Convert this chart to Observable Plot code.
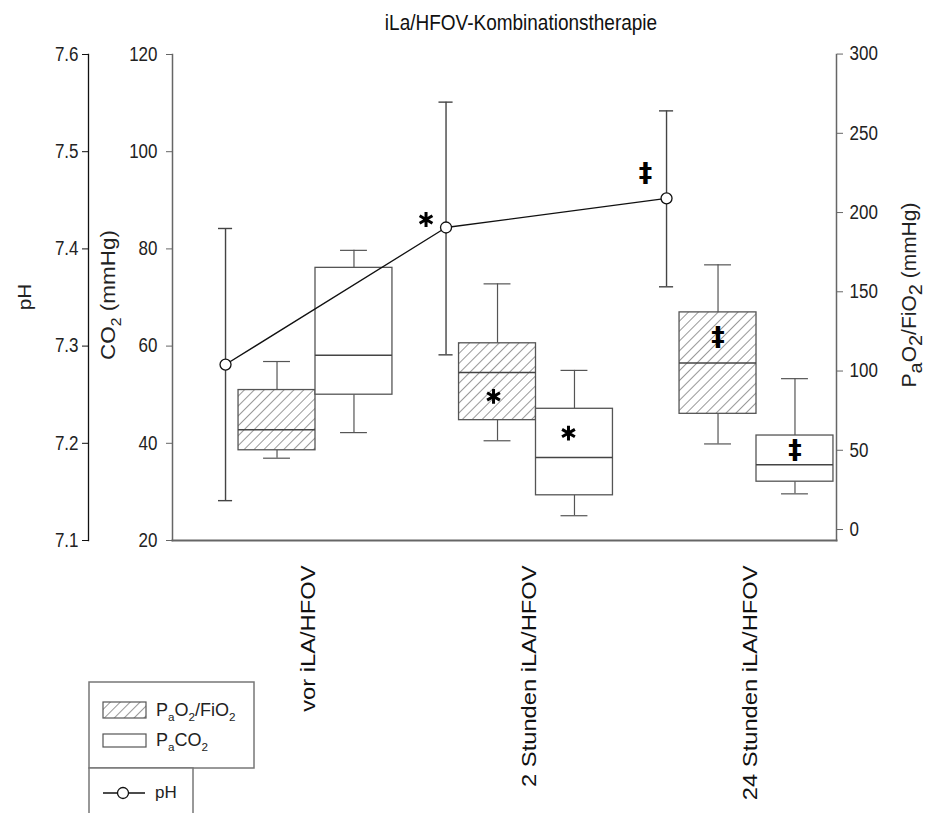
<!DOCTYPE html>
<html><head><meta charset="utf-8">
<script src="https://cdn.jsdelivr.net/npm/d3@7"></script>
<script src="https://cdn.jsdelivr.net/npm/@observablehq/plot@0.6"></script>
<style>body{margin:0;background:#fff;font-family:"Liberation Sans",Arial,sans-serif}</style>
</head><body><div id="chart"></div>
<script>
// ---- data ----
const categories = ["vor iLA/HFOV", "2 Stunden iLA/HFOV", "24 Stunden iLA/HFOV"];
// PaO2/FiO2 (mmHg), right axis – hatched boxes
const pfMin = [45, 56, 54];
const pfQ1  = [50, 69, 73];
const pfMed = [63, 99, 105];
const pfQ3  = [88, 117.5, 137];
const pfMax = [106, 155, 167];
// PaCO2 (mmHg), CO2 axis – white boxes
const co2Min = [42.2, 25.1, 29.6];
const co2Q1  = [50.0, 29.3, 32.1];
const co2Med = [58.1, 37.1, 35.6];
const co2Q3  = [76.1, 47.1, 41.6];
const co2Max = [79.7, 55.0, 53.3];
// pH, left axis – line with error bars
const phMean = [7.281, 7.422, 7.452];
const phLow  = [7.141, 7.291, 7.361];
const phHigh = [7.421, 7.551, 7.542];
// significance markers
const sig = ["", "*", "‡"];
const phTicks = [7.1, 7.2, 7.3, 7.4, 7.5, 7.6];
const co2Ticks = [20, 40, 60, 80, 100, 120];
const pfTicks = [0, 50, 100, 150, 200, 250, 300];

// ---- scale conversions to the shared (CO2) y scale ----
const phToY = p => 20 + (p - 7.1) * 200;
const yToPh = c => (c - 20) / 200 + 7.1;
const pfToY = v => 22.26 + v * 0.3261;
const yToPf = c => (c - 22.26) / 0.3261;

const boxW = 0.349, capW = 0.061, phOff = -0.408, phCap = 0.032;
const rows = categories.map((cat, i) => ({
  i, cat, sig: sig[i],
  hx: i - boxW / 2, wx: i + boxW / 2, px: i + phOff,
  pfMin: pfToY(pfMin[i]), pfQ1: pfToY(pfQ1[i]), pfMed: pfToY(pfMed[i]), pfQ3: pfToY(pfQ3[i]), pfMax: pfToY(pfMax[i]),
  cMin: co2Min[i], cQ1: co2Q1[i], cMed: co2Med[i], cQ3: co2Q3[i], cMax: co2Max[i],
  ph: phToY(phMean[i]), phLo: phToY(phLow[i]), phHi: phToY(phHigh[i])
}));
const star = rows.filter(d => d.sig === "*");
const dag = rows.filter(d => d.sig === "‡");
const boxStroke = "#555";
const FONT = '"Liberation Sans", Arial, sans-serif';

const plot = Plot.plot({
  width: 927, height: 813,
  marginTop: 54, marginBottom: 273, marginLeft: 172, marginRight: 91,
  x: {type: "linear", domain: [-0.6485, 2.3628], axis: null},
  y: {domain: [20, 120], axis: null},
  style: {fontFamily: FONT, background: "#fff", color: "#222"},
  marks: [
    // axes
    Plot.axisY(phTicks.map(phToY), {anchor: "left", dx: -84, tickSize: 6, tickPadding: 4, fontSize: 17,
      stroke: "#111", fill: "#222", tickFormat: c => yToPh(c).toFixed(1), label: null}),
    Plot.axisY(co2Ticks, {anchor: "left", tickSize: 6, tickPadding: 9, fontSize: 17,
      stroke: "#666", fill: "#222", tickFormat: d => String(d), label: null}),
    Plot.axisY(pfTicks.map(pfToY), {anchor: "right", tickSize: 6, tickPadding: 7, fontSize: 17,
      stroke: "#666", fill: "#222", tickFormat: c => String(Math.round(yToPf(c))), label: null}),
    Plot.frame({anchor: "left", dx: -84, stroke: "#111", strokeWidth: 1.3}),
    Plot.frame({anchor: "left", stroke: "#666", strokeWidth: 1.5}),
    Plot.frame({anchor: "right", stroke: "#666", strokeWidth: 1.5}),
    Plot.frame({anchor: "bottom", stroke: "#666", strokeWidth: 2}),
    // category labels
    Plot.text(rows, {x: "i", text: "cat", frameAnchor: "bottom", rotate: -90, textAnchor: "end",
      dy: 25, fontSize: 21, fill: "#111", className: "catlabel"}),
    // whiskers PaO2/FiO2
    Plot.ruleX(rows, {x: "hx", y1: "pfQ3", y2: "pfMax", stroke: boxStroke, strokeWidth: 1.2}),
    Plot.ruleX(rows, {x: "hx", y1: "pfQ1", y2: "pfMin", stroke: boxStroke, strokeWidth: 1.2}),
    Plot.ruleY(rows, {y: "pfMax", x1: d => d.hx - capW, x2: d => d.hx + capW, stroke: boxStroke, strokeWidth: 1.2}),
    Plot.ruleY(rows, {y: "pfMin", x1: d => d.hx - capW, x2: d => d.hx + capW, stroke: boxStroke, strokeWidth: 1.2}),
    // whiskers PaCO2
    Plot.ruleX(rows, {x: "wx", y1: "cQ3", y2: "cMax", stroke: boxStroke, strokeWidth: 1.2}),
    Plot.ruleX(rows, {x: "wx", y1: "cQ1", y2: "cMin", stroke: boxStroke, strokeWidth: 1.2}),
    Plot.ruleY(rows, {y: "cMax", x1: d => d.wx - capW, x2: d => d.wx + capW, stroke: boxStroke, strokeWidth: 1.2}),
    Plot.ruleY(rows, {y: "cMin", x1: d => d.wx - capW, x2: d => d.wx + capW, stroke: boxStroke, strokeWidth: 1.2}),
    // boxes
    Plot.rect(rows, {x1: d => d.i - boxW, x2: "i", y1: "pfQ1", y2: "pfQ3", fill: "url(#hatch)", stroke: boxStroke, strokeWidth: 1.3}),
    Plot.rect(rows, {x1: "i", x2: d => d.i + boxW, y1: "cQ1", y2: "cQ3", fill: "#fff", stroke: boxStroke, strokeWidth: 1.3}),
    Plot.ruleY(rows, {y: "pfMed", x1: d => d.i - boxW, x2: "i", stroke: "#444", strokeWidth: 1.5}),
    Plot.ruleY(rows, {y: "cMed", x1: "i", x2: d => d.i + boxW, stroke: "#444", strokeWidth: 1.5}),
    // pH error bars, line, points
    Plot.ruleX(rows, {x: "px", y1: "phLo", y2: "phHi", stroke: "#444", strokeWidth: 1.4}),
    Plot.ruleY(rows, {y: "phHi", x1: d => d.px - phCap, x2: d => d.px + phCap, stroke: "#444", strokeWidth: 1.4}),
    Plot.ruleY(rows, {y: "phLo", x1: d => d.px - phCap, x2: d => d.px + phCap, stroke: "#444", strokeWidth: 1.4}),
    Plot.line(rows, {x: "px", y: "ph", stroke: "#111", strokeWidth: 1.3}),
    Plot.dot(rows, {x: "px", y: "ph", r: 5.5, fill: "#fff", stroke: "#111", strokeWidth: 1.3}),
    // significance markers
    Plot.dot(star, {x: "px", y: "ph", symbol: "asterisk", r: 7, stroke: "#000", strokeWidth: 3, dx: -20, dy: -8}),
    Plot.dot(star, {x: "hx", y: d => (d.pfMed + d.pfQ1) / 2, symbol: "asterisk", r: 7, stroke: "#000", strokeWidth: 3, dx: -4}),
    Plot.dot(star, {x: "wx", y: d => (d.cQ3 + d.cMed) / 2, symbol: "asterisk", r: 7, stroke: "#000", strokeWidth: 3, dx: -6}),
    Plot.text(dag, {x: "px", y: "ph", text: "sig", dx: -21, dy: -25, fontSize: 27, fontWeight: "bold", fontFamily: "DejaVu Sans", fill: "#000"}),
    Plot.text(dag, {x: "hx", y: d => (d.pfQ3 + d.pfMed) / 2, text: "sig", fontSize: 27, fontWeight: "bold", fontFamily: "DejaVu Sans", fill: "#000"}),
    Plot.text(dag, {x: "wx", y: d => (d.cQ3 + d.cMed) / 2, text: "sig", fontSize: 27, fontWeight: "bold", fontFamily: "DejaVu Sans", fill: "#000"})
  ]
});

const svg = d3.select(plot);
// stretch text (the reference glyphs are slightly taller than wide)
function stretch(sel, sx, sy) {
  sel.each(function() {
    const t = d3.select(this);
    let tr = t.attr("transform");
    if (!tr) {
      tr = `translate(${+t.attr("x") || 0},${+t.attr("y") || 0})`;
      t.attr("x", null).attr("y", null);
    }
    t.attr("transform", `${tr} scale(${sx},${sy})`);
  });
}
stretch(svg.selectAll('[aria-label="y-axis tick label"] text'), 1, 1.15);
stretch(svg.selectAll('.catlabel text'), 1.13, 1);

// hatch pattern
const defs = svg.insert("defs", ":first-child");
const pat = defs.append("pattern").attr("id", "hatch").attr("patternUnits", "userSpaceOnUse")
  .attr("width", 7).attr("height", 7).attr("patternTransform", "rotate(45)");
pat.append("rect").attr("width", 7).attr("height", 7).attr("fill", "#fff");
pat.append("line").attr("x1", 0).attr("y1", 0).attr("x2", 0).attr("y2", 7).attr("stroke", "#444").attr("stroke-width", 1.1);

function richText(g, parts, size, subScale) {
  const t = g.append("text").attr("font-family", FONT).attr("font-size", size).attr("fill", "#222").attr("text-anchor", "start");
  const shift = size * 0.28;
  let down = false;
  parts.forEach(([s, sub]) => {
    const ts = t.append("tspan").text(s);
    if (sub && !down) { ts.attr("dy", shift).attr("font-size", size * subScale); down = true; }
    else if (sub) { ts.attr("font-size", size * subScale); }
    else if (!sub && down) { ts.attr("dy", -shift); down = false; }
  });
  return t;
}
const ys = plot.scale("y");
const midY = (ys.apply(20) + ys.apply(120)) / 2;
// title
svg.append("text").attr("transform", "translate(521,30) scale(1,1.18)").attr("text-anchor", "middle")
  .attr("font-family", FONT).attr("font-size", 19).attr("fill", "#111").text("iLa/HFOV-Kombinationstherapie");
// axis titles
svg.append("g").attr("transform", `translate(31,${midY}) rotate(-90) scale(1.15,1)`).call(g =>
  richText(g, [["pH", false]], 18, 1).attr("text-anchor", "middle"));
svg.append("g").attr("transform", `translate(115,${midY - 2}) rotate(-90) scale(1.07,1)`).call(g =>
  richText(g, [["CO", false], ["2", true], [" (mmHg)", false]], 21, 0.7).attr("text-anchor", "middle"));
svg.append("g").attr("transform", `translate(916,${midY - 2}) rotate(-90) scale(1.05,1)`).call(g =>
  richText(g, [["P", false], ["a", true], ["O", false], ["2", true], ["/FiO", false], ["2", true], [" (mmHg)", false]], 20, 0.95).attr("text-anchor", "middle"));

// legend
const lg = svg.append("g").attr("class", "legend");
lg.append("rect").attr("x", 89).attr("y", 682).attr("width", 165).attr("height", 86)
  .attr("fill", "#fff").attr("stroke", "#777").attr("stroke-width", 1.5);
lg.append("rect").attr("x", 89).attr("y", 768).attr("width", 104).attr("height", 60)
  .attr("fill", "#fff").attr("stroke", "#777").attr("stroke-width", 1.5);
lg.append("rect").attr("x", 103).attr("y", 702).attr("width", 43).attr("height", 16)
  .attr("fill", "url(#hatch)").attr("stroke", boxStroke).attr("stroke-width", 1.2);
lg.append("rect").attr("x", 103).attr("y", 734).attr("width", 43).attr("height", 13)
  .attr("fill", "#fff").attr("stroke", boxStroke).attr("stroke-width", 1.2);
lg.append("g").attr("transform", "translate(156,716)").call(g =>
  richText(g, [["P", false], ["a", true], ["O", false], ["2", true], ["/FiO", false], ["2", true]], 18, 0.65));
lg.append("g").attr("transform", "translate(156,746)").call(g =>
  richText(g, [["P", false], ["a", true], ["CO", false], ["2", true]], 18, 0.65));
lg.append("line").attr("x1", 103).attr("x2", 145).attr("y1", 793).attr("y2", 793).attr("stroke", "#111").attr("stroke-width", 1.3);
lg.append("circle").attr("cx", 123).attr("cy", 793).attr("r", 5.5).attr("fill", "#fff").attr("stroke", "#111").attr("stroke-width", 1.3);
lg.append("g").attr("transform", "translate(155,798)").call(g => richText(g, [["pH", false]], 17, 1));

document.getElementById("chart").appendChild(plot);
</script></body></html>
